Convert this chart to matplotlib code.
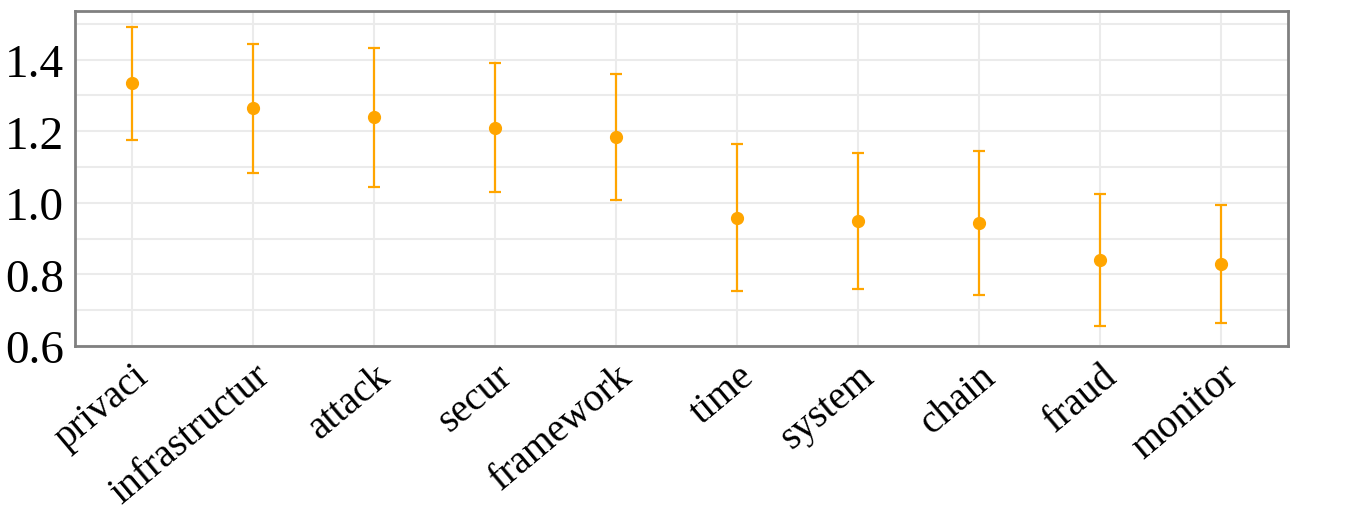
import matplotlib
matplotlib.use("Agg")
import matplotlib.pyplot as plt
import numpy as np

categories = ["privaci", "infrastructur", "attack", "secur", "framework",
              "time", "system", "chain", "fraud", "monitor"]
means = [1.335, 1.264, 1.239, 1.209, 1.184, 0.959, 0.949, 0.944, 0.840, 0.830]
upper = [1.492, 1.444, 1.433, 1.390, 1.360, 1.165, 1.139, 1.145, 1.024, 0.994]
lower = [1.175, 1.083, 1.044, 1.029, 1.008, 0.754, 0.759, 0.743, 0.656, 0.665]

major_yticks = [0.6, 0.8, 1.0, 1.2, 1.4]
minor_yticks = [0.7, 0.9, 1.1, 1.3, 1.5]

plt.rcParams['font.family'] = ['Liberation Serif', 'DejaVu Serif']

fig = plt.figure(figsize=(13.46, 5.10), dpi=100)
ax = fig.add_axes([75/1346, 1-347/510, (1288-75)/1346, (347-12)/510])

x = np.arange(len(categories))
m = np.array(means)
yerr = np.vstack([m - np.array(lower), np.array(upper) - m])
color = "#FFA500"
ax.errorbar(x, m, yerr=yerr, fmt='o', color=color, ecolor=color,
            markersize=8.5, elinewidth=1.6, capsize=4, capthick=1.6, zorder=3)

ax.set_xlim(-0.47, 9.55)
ax.set_ylim(0.605, 1.536)
ax.set_yticks(major_yticks)
ax.set_yticklabels([f"{v:.1f}" for v in major_yticks])
ax.set_yticks(minor_yticks, minor=True)
ax.set_xticks(x)
ax.set_xticklabels(categories, rotation=40, ha='right', rotation_mode='anchor')

ax.grid(True, which='both', color='#ebebeb', linewidth=1.5, zorder=0)
ax.set_axisbelow(True)
ax.tick_params(axis='both', which='both', length=0)
ax.tick_params(axis='y', labelsize=34, pad=8)
ax.tick_params(axis='x', labelsize=28.5, pad=8)

for s in ax.spines.values():
    s.set_color('#808080')
    s.set_linewidth(2)

fig.savefig("out.png", dpi=100)
